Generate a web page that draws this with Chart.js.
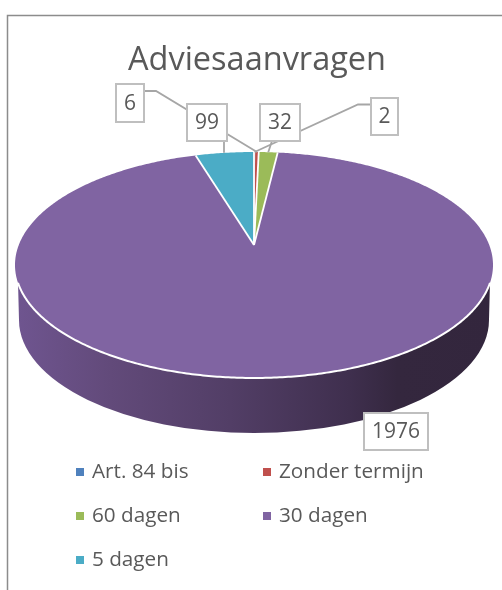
<!DOCTYPE html>
<html>
<head>
<meta charset="utf-8">
<style>html,body{margin:0;padding:0;background:#fff}canvas{display:block}</style>
<script src="https://cdn.jsdelivr.net/npm/chart.js@4/dist/chart.umd.min.js"></script>
</head>
<body>
<canvas id="c" width="502" height="590"></canvas>
<script>
const titleText = 'Adviesaanvragen';
const categories = ['Art. 84 bis', 'Zonder termijn', '60 dagen', '30 dagen', '5 dagen'];
const values = [2, 6, 32, 1976, 99];
const colors = ['#4F81BD', '#C0504D', '#9BBB59', '#8064A2', '#4BACC6'];

const FONT = '"Open Sans", sans-serif';
const TEXT = '#595959';

// perspective projection of the unit disc onto the page
const APEX_Y = 245, TOP_Y = 152, BOTTOM_Y = 378;
const cp = -(BOTTOM_Y - APEX_Y - (APEX_Y - TOP_Y)) / (BOTTOM_Y - TOP_Y);
const ap = (APEX_Y - TOP_Y) + TOP_Y * cp;
const project = (arc, a) => {
  const u = Math.cos(a), v = Math.sin(a), w = 1 + cp * v;
  return { x: arc.x + arc.outerRadius * Math.sqrt(1 - cp * cp) * u / w, y: (ap * v + APEX_Y) / w };
};
const rimPath = (ctx, arc, a0, a1) => {
  const n = Math.max(2, Math.ceil(Math.abs(a1 - a0) / 0.01));
  for (let i = 0; i <= n; i++) {
    const p = project(arc, a0 + (a1 - a0) * i / n);
    ctx.lineTo(p.x, p.y);
  }
};

const pie3d = {
  id: 'pie3d',
  afterLayout(chart) {
    chart.titleBlock.left += 3; chart.titleBlock.right += 3;
  },
  beforeDatasetDraw(chart) {
    const ctx = chart.ctx, arcs = chart.getDatasetMeta(0).data, ref = arcs[0];
    const cx = ref.x, R = ref.outerRadius;
    // side wall: front of the rim, extruded downwards
    const wallTop = 283, wallCy = 320, wallRx = 235, wallRy = 113;
    let aL = 0, best = 1e9;
    for (let a = Math.PI / 2; a < Math.PI; a += 0.002) {
      const d = Math.abs(project(ref, a).y - wallTop);
      if (d < best) { best = d; aL = a; }
    }
    const aR = Math.PI - aL;
    ctx.save();
    const g = ctx.createLinearGradient(cx - R, 0, cx + R, 0);
    g.addColorStop(0, '#6f5590');
    g.addColorStop(0.2, '#624a7a');
    g.addColorStop(0.45, '#523e66');
    g.addColorStop(0.7, '#3f2f4e');
    g.addColorStop(0.8, '#34273e');
    g.addColorStop(1, '#33263d');
    ctx.beginPath();
    rimPath(ctx, ref, aR, aL);
    ctx.ellipse(cx, wallCy, wallRx, wallRy, 0, Math.PI, 0, true);
    ctx.closePath();
    ctx.fillStyle = g;
    ctx.fill();
    // slices
    arcs.forEach((arc, i) => {
      ctx.beginPath();
      ctx.moveTo(cx, APEX_Y);
      rimPath(ctx, arc, arc.startAngle, arc.endAngle);
      ctx.closePath();
      ctx.fillStyle = colors[i];
      ctx.fill();
    });
    // white slice separators
    ctx.strokeStyle = '#fff';
    ctx.lineWidth = 1.8;
    arcs.forEach((arc, i) => {
      if (i === 1) return;
      const p = project(arc, arc.startAngle);
      ctx.beginPath();
      ctx.moveTo(cx, APEX_Y);
      ctx.lineTo(p.x, p.y);
      ctx.stroke();
    });
    // white highlight on the front rim
    ctx.lineWidth = 2;
    ctx.beginPath();
    rimPath(ctx, ref, aR, aL);
    ctx.stroke();
    ctx.restore();
    return false;
  },
  afterDraw(chart) {
    const ctx = chart.ctx, arcs = chart.getDatasetMeta(0).data;
    ctx.save();
    // frame
    ctx.strokeStyle = '#8c8c8c';
    ctx.lineWidth = 1.5;
    ctx.beginPath();
    ctx.moveTo(7.5, 590); ctx.lineTo(7.5, 15.5); ctx.lineTo(502, 15.5);
    ctx.stroke();
    // leader lines
    const mid = i => project(arcs[i], (arcs[i].startAngle + arcs[i].endAngle) / 2);
    const leaders = [
      [[144, 91], [156, 91], mid(1)],
      [[370, 104.5], [358, 104.5], mid(0)],
      [[224, 141], [224, mid(4).y]],
      [[277, 141], [272, 141], mid(2)]
    ];
    ctx.strokeStyle = '#a6a6a6';
    ctx.lineWidth = 1.8;
    leaders.forEach(l => {
      ctx.beginPath();
      l.forEach((p, i) => {
        const q = Array.isArray(p) ? { x: p[0], y: p[1] } : p;
        i ? ctx.lineTo(q.x, q.y) : ctx.moveTo(q.x, q.y);
      });
      ctx.stroke();
    });
    // data label boxes
    const boxes = [[0, 371, 98, 27, 37], [1, 116, 84, 28, 38], [2, 260, 104, 40, 37], [3, 364, 413, 64, 37], [4, 187, 104, 40, 37]];
    ctx.font = '21px ' + FONT;
    ctx.textAlign = 'center';
    ctx.textBaseline = 'middle';
    boxes.forEach(([i, x, y, w, h]) => {
      ctx.fillStyle = '#fff';
      ctx.fillRect(x, y, w, h);
      ctx.strokeStyle = '#bfbfbf';
      ctx.lineWidth = 2;
      ctx.strokeRect(x, y, w, h);
      ctx.fillStyle = TEXT;
      ctx.fillText(String(values[i]), x + w / 2, y + h / 2 + 1);
    });
    // legend
    const slots = [[76, 472], [263, 472], [76, 516], [263, 516], [76, 560]];
    ctx.textAlign = 'left';
    ctx.font = '20.7px ' + FONT;
    categories.forEach((name, i) => {
      const [x, y] = slots[i];
      ctx.fillStyle = colors[i];
      ctx.fillRect(x, y - 4, 8, 8);
      ctx.fillStyle = TEXT;
      ctx.fillText(name, x + 16, y);
    });
    ctx.restore();
  }
};

new Chart(document.getElementById('c'), {
  type: 'pie',
  data: { labels: categories, datasets: [{ data: values, backgroundColor: colors, borderWidth: 0 }] },
  options: {
    responsive: false,
    animation: false,
    events: [],
    layout: { padding: { left: 15, right: 9, top: 0, bottom: 0 } },
    plugins: {
      legend: { display: false },
      tooltip: { enabled: false },
      title: {
        display: true,
        text: titleText,
        color: TEXT,
        font: { family: FONT, size: 32.5, weight: 'normal' },
        padding: { top: 41, bottom: 1 }
      }
    }
  },
  plugins: [pie3d]
});
</script>
</body>
</html>
